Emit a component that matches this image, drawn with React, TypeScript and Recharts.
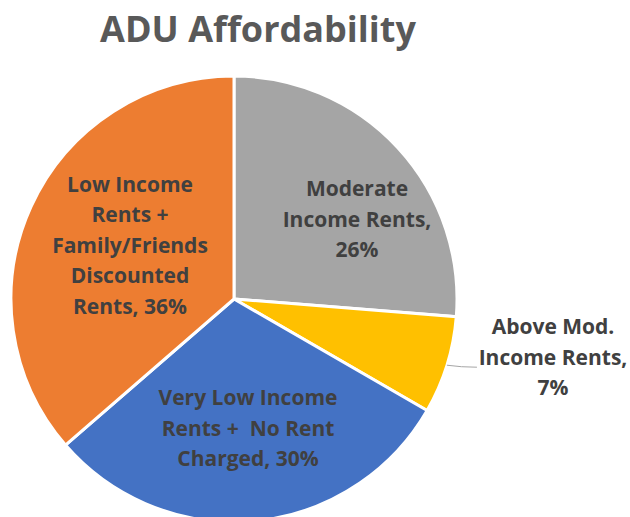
import React from "react";
import { PieChart, Pie, Cell } from "recharts";

const categories = [
  "Moderate Income Rents",
  "Above Mod. Income Rents",
  "Very Low Income Rents +  No Rent Charged",
  "Low Income Rents + Family/Friends Discounted Rents",
];
const values = [26, 7, 30, 36];
const colors = ["#A5A5A5", "#FFC000", "#4472C4", "#ED7D31"];
const labelLines = [
  ["Moderate", "Income Rents,", "26%"],
  ["Above Mod.", "Income Rents,", "7%"],
  ["Very Low Income", "Rents +  No Rent", "Charged, 30%"],
  ["Low Income", "Rents +", "Family/Friends", "Discounted", "Rents, 36%"],
];
// label block centre offsets from pie centre (dx, dy of middle line)
const labelOffsets = [
  [123, -80],
  [319, 58],
  [14, 129],
  [-104, -54],
];

const data = categories.map((name, i) => ({ name, value: values[i] }));

const FONT = "'Open Sans', sans-serif";
const LINE_H = 30.5;

const renderLabel = (props: any) => {
  const { cx, cy, index, outerRadius, midAngle } = props;
  const lines = labelLines[index];
  const [dx, dy] = labelOffsets[index];
  const x = cx + dx;
  const mid = (lines.length - 1) / 2;
  const RAD = Math.PI / 180;
  const elements: any[] = [];
  if (index === 1) {
    const sx = cx + outerRadius * Math.cos(-midAngle * RAD);
    const sy = cy + outerRadius * Math.sin(-midAngle * RAD);
    elements.push(
      <path
        key="ll"
        d={`M${sx},${sy} Q${sx + 14},${sy + 2} ${sx + 30},${sy + 2}`}
        stroke="#A6A6A6"
        strokeWidth={1}
        fill="none"
      />
    );
  }
  return (
    <g>
      {elements}
      <text
        x={x}
        y={cy + dy}
        textAnchor="middle"
        fill="#404040"
        fontFamily={FONT}
        fontWeight={700}
        fontSize={21}
        style={{ whiteSpace: "pre" }}
      >
        {lines.map((l, i) => (
          <tspan key={i} x={x} y={cy + dy + (i - mid) * LINE_H + 7.5}>
            {l}
          </tspan>
        ))}
      </text>
    </g>
  );
};

export default function App() {
  return (
    <div style={{ position: "absolute", left: 0, top: 0, width: 630, height: 517, background: "#fff" }}>
      <PieChart width={630} height={517} margin={{ top: 0, right: 0, bottom: 0, left: 0 }}>
        <text
          x={258}
          y={42}
          textAnchor="middle"
          fill="#595959"
          fontFamily={FONT}
          fontWeight={700}
          fontSize={36}
        >
          ADU Affordability
        </text>
        <Pie
          data={data}
          dataKey="value"
          nameKey="name"
          cx={234}
          cy={299}
          outerRadius={223}
          startAngle={90}
          endAngle={-270}
          stroke="#ffffff"
          strokeWidth={3}
          isAnimationActive={false}
          label={renderLabel}
          labelLine={false}
        >
          {data.map((d, i) => (
            <Cell key={d.name} fill={colors[i]} />
          ))}
        </Pie>
      </PieChart>
    </div>
  );
}
